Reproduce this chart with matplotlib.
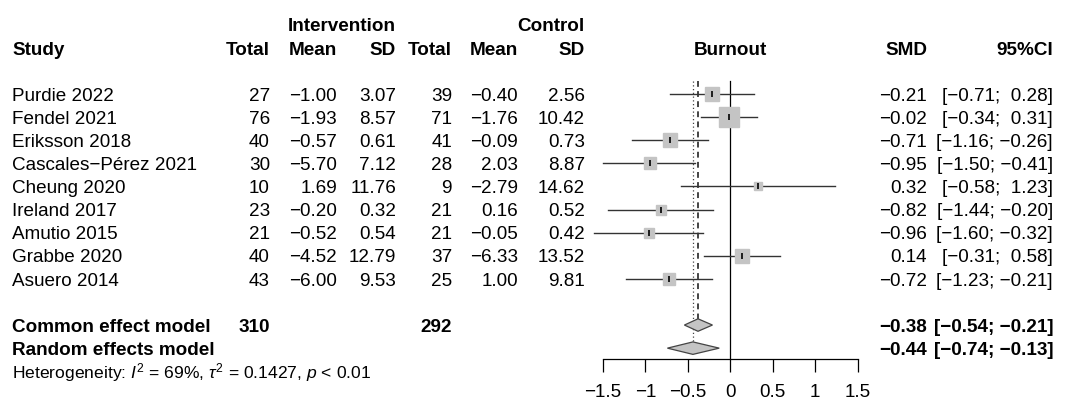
import matplotlib
matplotlib.use("Agg")
import matplotlib.pyplot as plt
import matplotlib.transforms as mtransforms
from matplotlib.patches import Polygon
import numpy as np

plt.rcParams["font.family"] = ["Liberation Sans", "DejaVu Sans"]
plt.rcParams["mathtext.fontset"] = "custom"
plt.rcParams["mathtext.rm"] = "Liberation Sans"
plt.rcParams["mathtext.it"] = "Liberation Sans:italic"
plt.rcParams["mathtext.bf"] = "Liberation Sans:bold"

# study level data
studies   = ["Purdie 2022", "Fendel 2021", "Eriksson 2018", "Cascales\u2212Pérez 2021",
             "Cheung 2020", "Ireland 2017", "Amutio 2015", "Grabbe 2020", "Asuero 2014"]
n_int     = [27, 76, 40, 30, 10, 23, 21, 40, 43]
mean_int  = [-1.00, -1.93, -0.57, -5.70, 1.69, -0.20, -0.52, -4.52, -6.00]
sd_int    = [3.07, 8.57, 0.61, 7.12, 11.76, 0.32, 0.54, 12.79, 9.53]
n_ctl     = [39, 71, 41, 28, 9, 21, 21, 37, 25]
mean_ctl  = [-0.40, -1.76, -0.09, 2.03, -2.79, 0.16, -0.05, -6.33, 1.00]
sd_ctl    = [2.56, 10.42, 0.73, 8.87, 14.62, 0.52, 0.42, 13.52, 9.81]
smd       = [-0.21, -0.02, -0.71, -0.95, 0.32, -0.82, -0.96, 0.14, -0.72]
ci_lo     = [-0.71, -0.34, -1.16, -1.50, -0.58, -1.44, -1.60, -0.31, -1.23]
ci_hi     = [0.28, 0.31, -0.26, -0.41, 1.23, -0.20, -0.32, 0.58, -0.21]

# pooled estimates
pooled_names = ["Common effect model", "Random effects model"]
pooled_est   = [-0.38, -0.44]
pooled_lo    = [-0.54, -0.74]
pooled_hi    = [-0.21, -0.13]
total_int    = 310
total_ctl    = 292
het_text     = r"Heterogeneity: $I^2$ = 69%, $\tau^2$ = 0.1427, $p$ < 0.01"
xticks       = [-1.5, -1, -0.5, 0, 0.5, 1, 1.5]

W, H = 1070, 401
FS = 13.6
ROW = 23.1           # px per row
fig = plt.figure(figsize=(W / 100, H / 100), dpi=100)

# forest panel: x in SMD units, y in rows (0 = first study)
x0_px, unit_px = 730.3, 85.0
xlim = (-1.7, 1.7)
axis_px = 359.0
ylim = (11.47, -4.0)
ax_left = x0_px + xlim[0] * unit_px
ax_w = (xlim[1] - xlim[0]) * unit_px
ax_h = (ylim[0] - ylim[1]) * ROW
ax = fig.add_axes([ax_left / W, (H - axis_px) / H, ax_w / W, ax_h / H])
ax.set_xlim(*xlim)
ax.set_ylim(*ylim)
for s in ["top", "right", "left"]:
    ax.spines[s].set_visible(False)
ax.spines["bottom"].set_bounds(xticks[0], xticks[-1])
ax.spines["bottom"].set_linewidth(0.9)
ax.set_yticks([])
ax.set_xticks(xticks)
ax.set_xticklabels([f"{t:g}".replace("-", "\u2212") for t in xticks])
ax.tick_params(axis="x", direction="out", length=9.4, width=0.9, pad=8.5, labelsize=FS)
ax.patch.set_visible(False)

rows = np.arange(len(studies))
weights = 1.0 / ((np.array(ci_hi) - np.array(ci_lo)) / 3.92) ** 2
side_pt = 3.35 * np.sqrt(weights) * 0.72

# reference lines
top_line = -0.55
ax.plot([0, 0], [top_line, ylim[0]], color="black", lw=0.9, zorder=1)
ax.plot([pooled_est[0]] * 2, [top_line, 10 - 0.27], color="#444444", lw=1.4,
        ls=(0, (3, 2.2)), zorder=1)
ax.plot([pooled_est[1]] * 2, [top_line, 11 - 0.27], color="#444444", lw=0.9,
        ls=(0, (1, 2)), zorder=1)

for r, est, lo, hi, sz in zip(rows, smd, ci_lo, ci_hi, side_pt):
    ax.plot([lo, hi], [r, r], color="#333333", lw=1.0, zorder=2, clip_on=False)
    ax.plot(est, r, marker="s", ms=sz, mfc="#c4c4c4", mec="#c4c4c4", zorder=3,
            clip_on=False)
    ax.plot(est, r, marker="|", ms=5, mew=1.2, color="black", zorder=4)

for i, (est, lo, hi) in enumerate(zip(pooled_est, pooled_lo, pooled_hi)):
    r = 10 + i
    hh = 0.27
    ax.add_patch(Polygon([[lo, r], [est, r - hh], [hi, r], [est, r + hh]],
                         closed=True, fc="#c4c4c4", ec="#444444", lw=0.9, zorder=3))

# text columns (right edges in px)
tr = mtransforms.blended_transform_factory(fig.transFigure, ax.transData)
BASE = 0.29


def put(px, row, s, ha="right", bold=False, size=FS):
    ax.text(px / W, row + BASE, s, transform=tr, ha=ha, va="baseline",
            fontsize=size, fontweight="bold" if bold else "normal", clip_on=False)


def num(v):
    return f"{v:.2f}".replace("-", "\u2212")


cols = {"nI": 270, "mI": 337, "sI": 396, "nC": 452, "mC": 518, "sC": 585,
        "smd": 927, "ci": 1053}
study_x = 12

put(cols["sI"], -3, "Intervention", bold=True)
put(cols["sC"], -3, "Control", bold=True)
put(study_x, -2, "Study", ha="left", bold=True)
for key, lab in [("nI", "Total"), ("mI", "Mean"), ("sI", "SD"),
                 ("nC", "Total"), ("mC", "Mean"), ("sC", "SD"),
                 ("smd", "SMD"), ("ci", "95%CI")]:
    put(cols[key], -2, lab, bold=True)
put(x0_px, -2, "Burnout", ha="center", bold=True)


def ci_str(lo, hi):
    hs = num(hi) if hi < 0 else " " + num(hi)
    return f"[{num(lo)}; {hs}]"


for r in rows:
    put(study_x, r, studies[r], ha="left")
    put(cols["nI"], r, str(n_int[r]))
    put(cols["mI"], r, num(mean_int[r]))
    put(cols["sI"], r, num(sd_int[r]))
    put(cols["nC"], r, str(n_ctl[r]))
    put(cols["mC"], r, num(mean_ctl[r]))
    put(cols["sC"], r, num(sd_ctl[r]))
    put(cols["smd"], r, num(smd[r]))
    put(cols["ci"], r, ci_str(ci_lo[r], ci_hi[r]))

for i, name in enumerate(pooled_names):
    r = 10 + i
    put(study_x, r, name, ha="left", bold=True)
    put(cols["smd"], r, num(pooled_est[i]), bold=True)
    put(cols["ci"], r, ci_str(pooled_lo[i], pooled_hi[i]), bold=True)
put(cols["nI"], 10, str(total_int), bold=True)
put(cols["nC"], 10, str(total_ctl), bold=True)
put(study_x, 12, het_text, ha="left", size=12.6)

fig.savefig("out.png", dpi=100, facecolor="white")
